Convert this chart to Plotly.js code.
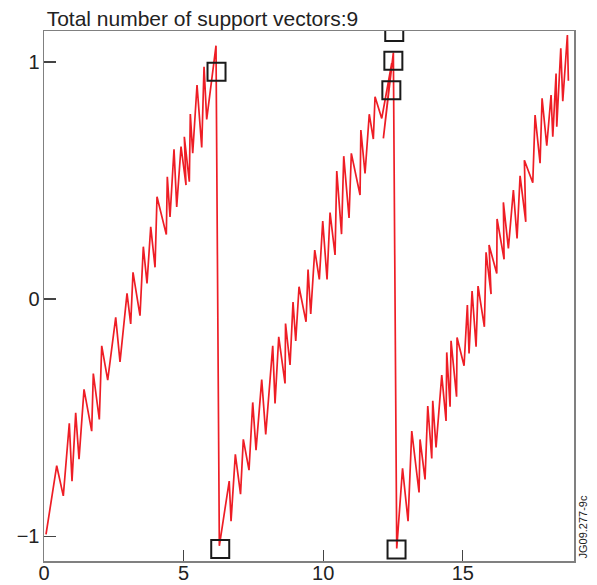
<!DOCTYPE html>
<html>
<head>
<meta charset="utf-8">
<script src="https://cdn.plot.ly/plotly-3.0.1.min.js"></script>
<style>html,body{margin:0;padding:0;background:#fff;}#chart{width:597px;height:585px;}</style>
</head>
<body>
<div id="chart"></div>
<script>
// Noisy sawtooth signal (three periods)
const xSignal = [
  0.072,0.455,0.691,0.906,1.003,1.135,1.254,1.433,1.708,1.766,1.981,2.067,2.282,2.568,2.722,2.973,3.105,3.188,3.438,3.557,
  3.689,3.822,3.976,4.047,4.380,4.416,4.513,4.656,4.753,4.907,5.086,5.025,5.204,5.240,5.326,5.480,5.648,5.731,5.827,6.160,
  6.279,6.633,6.698,6.852,7.038,7.138,7.342,7.475,7.593,7.797,7.940,8.191,8.274,8.406,8.632,8.650,8.811,8.918,9.015,9.133,
  9.384,9.456,9.552,9.696,9.860,9.982,10.136,10.244,10.423,10.484,10.655,10.734,10.924,11.006,11.318,11.347,11.497,11.648,11.794,11.855,
  12.095,12.453,12.153,12.511,
  12.632,12.840,13.037,13.170,13.431,13.467,13.646,13.743,13.886,13.922,14.040,14.244,14.398,14.423,14.542,14.577,14.774,14.792,15.043,15.161,
  15.222,15.330,15.473,15.544,15.770,15.831,16.010,15.938,16.214,16.225,16.476,16.451,16.630,16.809,16.941,17.049,17.253,17.203,17.504,17.586,
  17.765,17.837,18.005,18.159,18.220,18.338,18.363,18.507,18.578,18.743,18.779
];
const ySignal = [
  -0.993,-0.703,-0.830,-0.524,-0.768,-0.480,-0.675,-0.381,-0.557,-0.314,-0.508,-0.197,-0.342,-0.077,-0.265,0.024,-0.105,0.113,-0.070,0.221,
  0.066,0.305,0.134,0.432,0.272,0.516,0.347,0.632,0.389,0.643,0.481,0.685,0.495,0.781,0.615,0.903,0.640,0.980,0.758,1.069,
  -1.041,-0.768,-0.937,-0.655,-0.823,-0.592,-0.722,-0.436,-0.637,-0.340,-0.571,-0.197,-0.440,-0.159,-0.356,-0.103,-0.278,-0.013,-0.177,0.052,
  -0.096,0.125,-0.063,0.207,0.083,0.329,0.083,0.365,0.186,0.540,0.274,0.603,0.342,0.615,0.439,0.713,0.530,0.780,0.675,0.854,
  0.762,0.995,0.678,1.040,
  -1.052,-0.714,-0.937,-0.557,-0.816,-0.592,-0.761,-0.451,-0.672,-0.429,-0.626,-0.321,-0.514,-0.225,-0.454,-0.176,-0.412,-0.162,-0.281,-0.025,
  -0.229,0.034,-0.201,0.055,-0.117,0.197,0.021,0.228,0.108,0.338,0.168,0.408,0.214,0.460,0.256,0.520,0.326,0.586,0.491,0.776,
  0.573,0.847,0.647,0.861,0.685,0.952,0.727,1.058,0.835,1.114,0.921
];
// Support vectors (visible markers)
const xSV = [6.178, 6.311, 12.543, 12.511, 12.439, 12.625];
const ySV = [0.959, -1.054, 1.127, 1.005, 0.881, -1.056];
const xTicks = [0, 5, 10, 15];
const yTicks = [-1, 0, 1];
const yTickText = ['\u22121', '0', '1'];
const titleText = 'Total number of support vectors:9';
const stampText = 'JG09.277-9c';

const traces = [
  {x: xSignal, y: ySignal, type: 'scatter', mode: 'lines',
   line: {color: '#ee1d25', width: 1.7}, hoverinfo: 'skip', showlegend: false},
  {x: xSV, y: ySV, type: 'scatter', mode: 'markers',
   marker: {symbol: 'square-open', size: 18, color: '#1a1a1a', line: {width: 2, color: '#1a1a1a'}},
   showlegend: false}
];

const layout = {
  width: 597, height: 585,
  margin: {l: 44, r: 23, t: 31, b: 24, pad: 0},
  paper_bgcolor: '#fff', plot_bgcolor: '#fff',
  font: {family: 'Liberation Sans, Arial, sans-serif', color: '#222', size: 20},
  title: {text: titleText, xref: 'paper', x: 0.005, xanchor: 'left',
          yref: 'container', y: 0.968, yanchor: 'middle',
          font: {size: 21, color: '#222', family: 'Liberation Sans, Arial, sans-serif'}},
  xaxis: {range: [0, 18.98], tickvals: xTicks, ticktext: xTicks.map(String),
          ticks: 'inside', ticklen: 11, tickwidth: 1.2, tickcolor: '#444',
          showline: true, linecolor: '#808080', linewidth: 1.5, mirror: true,
          showgrid: false, zeroline: false, tickfont: {size: 20}, ticklabelstandoff: -7},
  yaxis: {range: [-1.105, 1.131], tickvals: yTicks, ticktext: yTickText,
          ticks: 'inside', ticklen: 12, tickwidth: 1.2, tickcolor: '#444',
          showline: true, linecolor: '#808080', linewidth: 1.5, mirror: true,
          showgrid: false, zeroline: false, tickfont: {size: 20}, ticklabelstandoff: -1},
  annotations: [
    {text: stampText, xref: 'paper', yref: 'paper', x: 1, y: 0, xanchor: 'left', yanchor: 'bottom',
     xshift: 0, textangle: -90, showarrow: false, font: {size: 11, color: '#222'}}
  ]
};

Plotly.newPlot('chart', traces, layout, {displayModeBar: false, staticPlot: true});
</script>
</body>
</html>
